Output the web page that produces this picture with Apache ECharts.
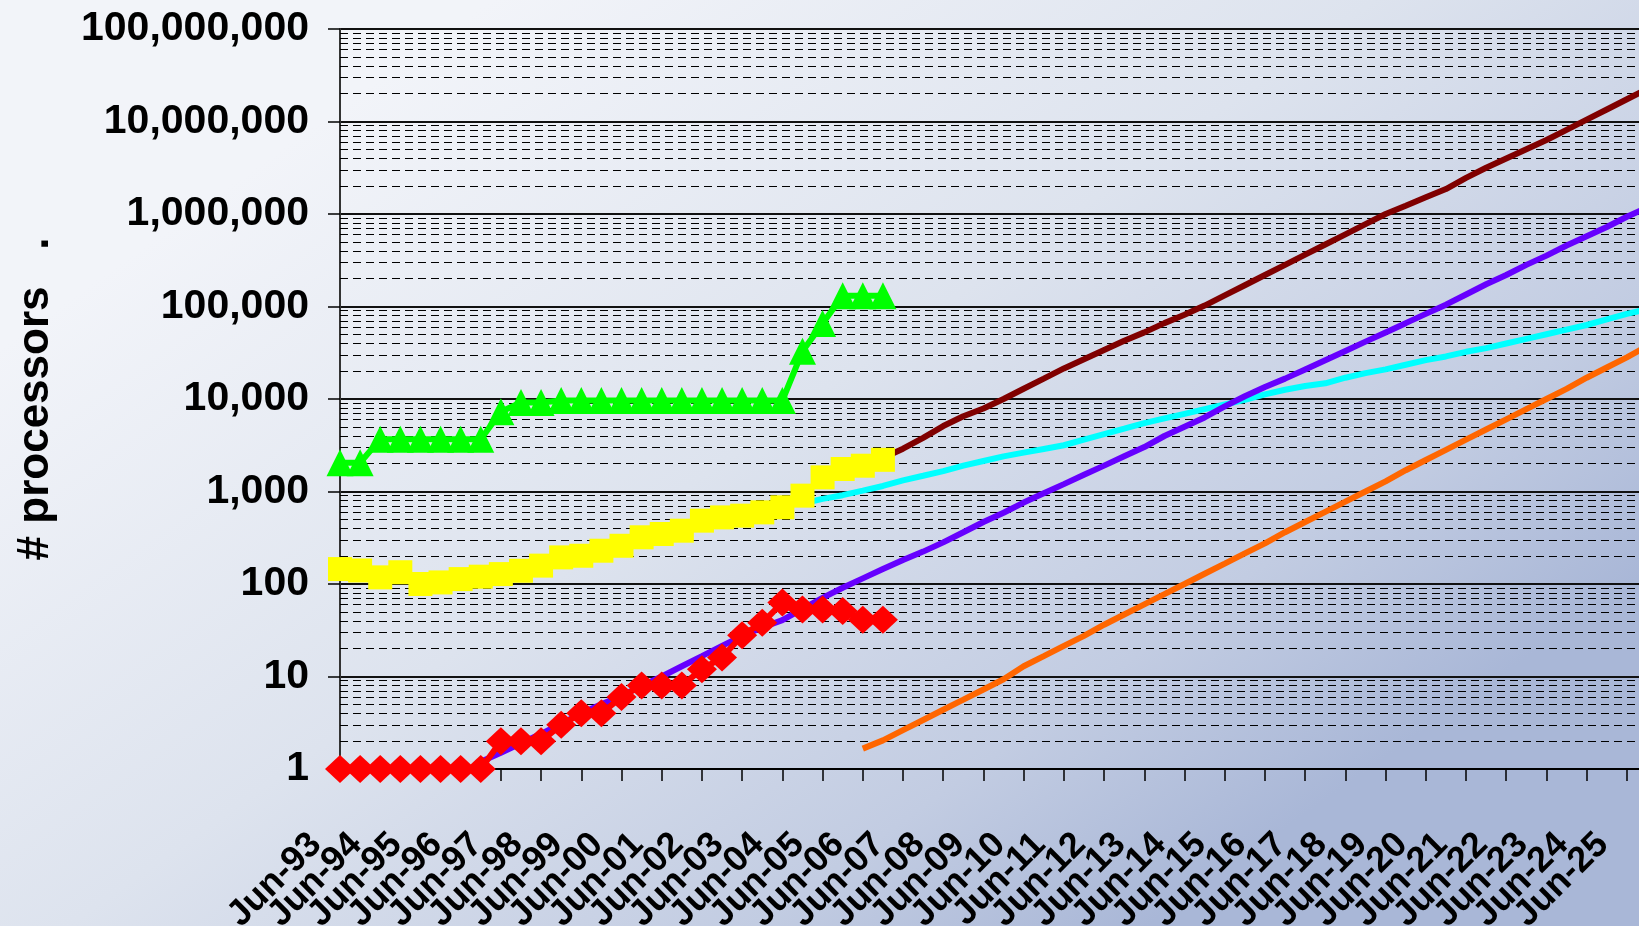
<!DOCTYPE html>
<html>
<head>
<meta charset="utf-8">
<title># processors</title>
<script src="https://cdn.jsdelivr.net/npm/echarts@6/dist/echarts.min.js"></script>
<style>
  html, body { margin: 0; padding: 0; }
  #chart { width: 1639px; height: 926px; }
</style>
</head>
<body>
<div id="chart"></div>
<script>
// half-yearly lists, Jun / Nov
const categories = [
  'Jun-93', 'Nov-93', 'Jun-94', 'Nov-94', 'Jun-95', 'Nov-95', 'Jun-96', 'Nov-96',
  'Jun-97', 'Nov-97', 'Jun-98', 'Nov-98', 'Jun-99', 'Nov-99', 'Jun-00', 'Nov-00',
  'Jun-01', 'Nov-01', 'Jun-02', 'Nov-02', 'Jun-03', 'Nov-03', 'Jun-04', 'Nov-04',
  'Jun-05', 'Nov-05', 'Jun-06', 'Nov-06', 'Jun-07', 'Nov-07', 'Jun-08', 'Nov-08',
  'Jun-09', 'Nov-09', 'Jun-10', 'Nov-10', 'Jun-11', 'Nov-11', 'Jun-12', 'Nov-12',
  'Jun-13', 'Nov-13', 'Jun-14', 'Nov-14', 'Jun-15', 'Nov-15', 'Jun-16', 'Nov-16',
  'Jun-17', 'Nov-17', 'Jun-18', 'Nov-18', 'Jun-19', 'Nov-19', 'Jun-20', 'Nov-20',
  'Jun-21', 'Nov-21', 'Jun-22', 'Nov-22', 'Jun-23', 'Nov-23', 'Jun-24', 'Nov-24',
  'Jun-25', 'Nov-25'
]

// measured series (from Jun-93)
const maxProcs = [2048, 2048, 3680, 3680, 3680, 3680, 3680, 3680, 7264, 9152, 9152, 9632, 9632, 9632,
  9632, 9632, 9632, 9632, 9632, 9632, 9632, 9632, 9632, 32768, 65536, 131072, 131072, 131072]
const avgProcs = [145, 140, 118, 134, 100, 104, 113, 120, 128, 139, 158, 194, 202, 229,
  259, 320, 347, 377, 484, 525, 548, 595, 675, 902, 1422, 1750, 1900, 2200]
const minProcs = [1, 1, 1, 1, 1, 1, 1, 1, 2, 2, 2, 3, 4, 4,
  6, 8, 8, 8, 12, 16, 28, 38, 63, 53, 53, 51, 41, 41]

// trend lines, each with its first category
const purpleStart = 'Nov-96'
const purpleTrend = [1.2, 1.5, 1.9, 2.4, 3.1, 4.0, 5.0, 6.2, 7.9, 10, 12.9, 16.6, 21.4, 27.5, 33.9,
  40.7, 53.7, 70.8, 91.2, 115, 145, 182, 224, 282, 363, 468, 589, 759, 955, 1202, 1514, 1905,
  2399, 3020, 3981, 5012, 6310, 8318, 10720, 13490, 16600, 20890, 26300, 33110, 41690, 52480,
  66070, 83180, 104700, 134900, 173800, 218800, 281800, 354800, 457100, 575400, 724400,
  933300, 1175000]
const maroonStart = 'Nov-06'
const maroonTrend = [2300, 2900, 3800, 5100, 6500, 7900, 10000, 12900, 16600, 21400, 26900,
  33900, 42700, 52500, 66100, 81300, 102300, 131800, 169800, 218800, 281800, 363100, 467700,
  602600, 776200, 1000000, 1230000, 1514000, 1862000, 2455000, 3162000, 3981000, 5012000,
  6310000, 8128000, 10470000, 13490000, 17380000, 22390000]
const cyanStart = 'Nov-04'
const cyanTrend = [741, 832, 912, 1023, 1148, 1318, 1479, 1660, 1905, 2138, 2399, 2630, 2884,
  3162, 3631, 4169, 4786, 5495, 6166, 6918, 7762, 8710, 9772, 11220, 12590, 13800, 14790,
  16980, 19050, 20890, 23440, 26300, 28840, 32360, 35480, 39810, 44670, 50120, 56230, 63100,
  72440, 83180, 93330]
const orangeStart = 'Jun-06'
const orangeTrend = [1.66, 2.04, 2.63, 3.39, 4.37, 5.62, 7.24, 9.33, 12.9, 16.6, 21.4, 27.5,
  36.3, 46.8, 60.3, 77.6, 100, 129, 166, 214, 275, 363, 468, 603, 776, 1000, 1288, 1698, 2188,
  2818, 3631, 4677, 6026, 7762, 10000, 12880, 16980, 21880, 28180, 37150]

const decades = [1, 10, 100, 1000, 10000, 100000, 1000000, 10000000]
const minorSteps = [2, 3, 4, 5, 6, 7, 8, 9]

const pad = (start, values) => {
  const offset = categories.indexOf(start)
  return categories.map((c, i) => (i >= offset && i - offset < values.length ? values[i - offset] : null))
}

const minorLines = []
decades.forEach(d => minorSteps.forEach(k => minorLines.push({ yAxis: d * k })))

const font = 'Liberation Sans, Arial, sans-serif'

const trend = (name, color, start, values) => ({
  name,
  type: 'line',
  data: pad(start, values),
  showSymbol: false,
  symbol: 'none',
  lineStyle: { color, width: 6 },
  itemStyle: { color },
  z: 3
})

const marked = (name, color, symbol, size, values) => ({
  name,
  type: 'line',
  data: pad('Jun-93', values),
  symbol,
  symbolSize: size,
  showSymbol: true,
  showAllSymbol: true,
  lineStyle: { color, width: 6 },
  itemStyle: { color, opacity: 1 },
  z: 4
})

const chart = echarts.init(document.getElementById('chart'))

chart.setOption({
  animation: false,
  backgroundColor: new echarts.graphic.LinearGradient(0.3, 0, 0.7, 1, [
    { offset: 0, color: '#f2f4f9' },
    { offset: 0.45, color: '#dde3ee' },
    { offset: 0.8, color: '#c2cce2' },
    { offset: 1, color: '#a9b7d7' }
  ]),
  grid: {
    left: 340,
    right: -8,
    top: 29,
    bottom: 157,
    outerBoundsMode: 'none'
  },
  xAxis: {
    type: 'category',
    data: categories,
    boundaryGap: false,
    axisLine: { lineStyle: { color: '#000', width: 2 } },
    axisTick: { interval: 1, length: 12, lineStyle: { color: '#000', width: 1.5 } },
    axisLabel: {
      // every label is laid out, the Nov ones are blank
      interval: 0,
      formatter: (value, idx) => (idx % 2 === 0 ? value : ''),
      hideOverlap: false,
      rotate: 45,
      margin: 46,
      padding: [0, 34, 0, 0],
      color: '#000',
      fontFamily: font,
      fontWeight: 'bold',
      fontSize: 36
    },
    splitLine: { show: false }
  },
  yAxis: {
    type: 'log',
    logBase: 10,
    min: 1,
    max: 100000000,
    splitNumber: 8,
    name: '# processors   .',
    nameLocation: 'middle',
    nameGap: 282,
    nameTextStyle: { color: '#000', fontFamily: font, fontWeight: 'bold', fontSize: 44 },
    axisLine: { show: true, lineStyle: { color: '#333', width: 2 } },
    axisTick: { show: true, length: 12, lineStyle: { color: '#000', width: 1.5 } },
    axisLabel: {
      margin: 31,
      color: '#000',
      fontFamily: font,
      fontWeight: 'bold',
      fontSize: 41,
      formatter: v => Math.round(v).toLocaleString('en-US')
    },
    splitLine: { show: true, lineStyle: { color: '#111', width: 2 } }
  },
  series: [
    {
      name: 'minor grid',
      type: 'line',
      data: [],
      silent: true,
      markLine: {
        silent: true,
        z: 1,
        symbol: ['none', 'none'],
        label: { show: false },
        lineStyle: { color: '#000', width: 1, type: [8, 5] },
        emphasis: { disabled: true },
        data: minorLines
      }
    },
    trend('orange', '#ff6600', orangeStart, orangeTrend),
    trend('cyan', '#00ffff', cyanStart, cyanTrend),
    trend('maroon', '#800000', maroonStart, maroonTrend),
    trend('purple', '#6600ff', purpleStart, purpleTrend),
    marked('average', '#ffff00', 'rect', 24, avgProcs),
    marked('minimum', '#ff0000', 'diamond', [30, 28], minProcs),
    marked('maximum', '#00ff00', 'triangle', [27, 27], maxProcs)
  ]
})
</script>
</body>
</html>
